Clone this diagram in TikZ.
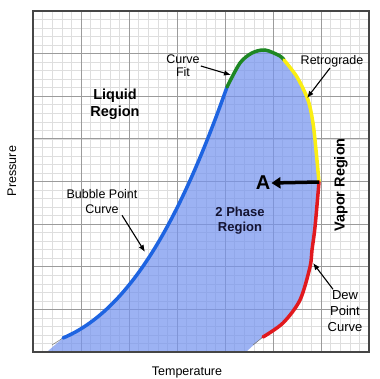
\documentclass[tikz,border=0pt]{standalone}
\usepackage{fontspec}
\setmainfont{Liberation Sans}
\usetikzlibrary{arrows.meta}
\definecolor{fillblue}{RGB}{118,148,238}
\definecolor{bubbleblue}{RGB}{30,100,225}
\definecolor{fitgreen}{RGB}{30,135,35}
\definecolor{retroyellow}{RGB}{250,238,20}
\definecolor{dewred}{RGB}{225,25,30}
\definecolor{minorgrid}{RGB}{222,222,222}
\definecolor{majorgrid}{RGB}{155,155,155}
\definecolor{framegray}{RGB}{70,70,70}
\definecolor{navytext}{RGB}{20,20,50}
\tikzset{
  lbl/.style={align=center,inner sep=1pt,font=\fontsize{12.5}{15}\selectfont},
  region/.style={align=center,inner sep=1pt,font=\bfseries\fontsize{14.5}{17}\selectfont},
  arr/.style={-{Latex[length=7pt,width=5.5pt]},line width=1.1pt},
  env/.style={line width=3.5pt,line cap=round},
}
\begin{document}
\begin{tikzpicture}[x=1pt,y=-1pt]%phase envelope
\useasboundingbox (0,0) rectangle (379,379);
\draw[minorgrid,line width=0.6pt] \foreach \i in {0,...,35} {({33+\i*9.6},11) -- ({33+\i*9.6},352)};
\draw[minorgrid,line width=0.6pt] \foreach \i in {0,...,40} {(33,{11+\i*8.525}) -- (369,{11+\i*8.525})};
\draw[majorgrid,line width=0.8pt] \foreach \i in {1,...,6} {({33+\i*48},11) -- ({33+\i*48},352)};
\draw[majorgrid,line width=0.8pt] \foreach \i in {1,...,7} {(33,{11+\i*42.625}) -- (369,{11+\i*42.625})};
% two phase area
\fill[fillblue,opacity=0.72] (48,351) -- (63,338) .. controls (130,310) and (180,220) .. (227,87)
  -- plot[smooth] coordinates {(227,87) (240,63) (252,53) (265,50) (280,56) (284,60) (297,77)
  (308,100) (313,123) (316,150) (319,182) (315,227) (312,250) (310,267) (300,300) (283,323)
  (263,337) (247,351)} -- cycle;
\draw[gray,line width=0.6pt] (63,338) -- (52,345) (263,337) -- (253,345);
\draw[env,bubbleblue] (63,338) .. controls (130,310) and (180,220) .. (227,87);
\draw[env,fitgreen] plot[smooth] coordinates {(227,87) (240,63) (252,53) (265,50) (280,56) (284,60)};
\draw[env,retroyellow] plot[smooth] coordinates {(284,60) (297,77) (308,100) (313,123)
  (316,150) (319,182)};
\draw[env,dewred] plot[smooth] coordinates {(319,182) (315,227) (312,250) (310,267)
  (300,300) (283,323) (263,337)};
\draw[framegray,line width=1.3pt] (33,11) rectangle (369,352);
% points on the envelope
\coordinate (fithead) at (231,75);
\coordinate (retrohead) at (307,98);
\coordinate (bubblehead) at (145,252);
\coordinate (dewhead) at (313,263);
\coordinate (cricon) at (319,182);
% labels
\node[region] (liquid) at (115,104) {Liquid\\Region};
\node[region,text=navytext,font=\bfseries\fontsize{13}{15}\selectfont] (twophase) at (240,221) {2 Phase\\Region};
\node[region,rotate=90] (vapor) at (341,185) {Vapor Region};
\node[lbl,font=\fontsize{12.5}{13}\selectfont] (curvefit) at (183,66) {Curve\\Fit};
\node[lbl] (retro) at (332,61) {Retrograde};
\node[lbl] (bubble) at (102,202) {Bubble Point\\Curve};
\node[lbl,font=\fontsize{13}{16}\selectfont] (dew) at (345,311) {Dew\\Point\\Curve};
\node[inner sep=1pt,font=\bfseries\fontsize{20}{22}\selectfont] (pointA) at (263,183) {A};
\node[lbl,rotate=90] (pressure) at (12,171) {Pressure};
\node[lbl] (temperature) at (187,372) {Temperature};
% arrows
\draw[arr] (curvefit.east) -- (fithead);
\draw[arr] ([xshift=-2pt]retro.south) -- (retrohead);
\draw[arr] ([xshift=20pt]bubble.south) -- (bubblehead);
\draw[arr] ([xshift=-12pt]dew.north) -- (dewhead);
\draw[-{Triangle[length=9pt,width=11pt]},line width=3.5pt] (cricon) -- (pointA.east);
\end{tikzpicture}
\end{document}
